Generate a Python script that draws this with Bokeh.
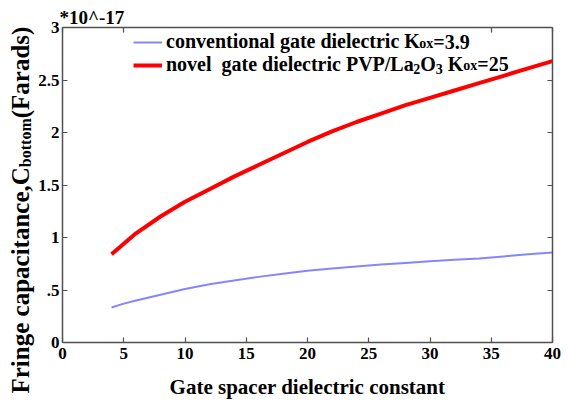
import math
from bokeh.plotting import figure
from bokeh.layouts import row
from bokeh.models import Range1d, FixedTicker, LinearAxis, Label, Legend, LegendItem
from bokeh.embed import file_html
from bokeh.resources import INLINE

# ---------------- data ----------------
x_vals = [4, 5, 6, 8, 10, 12, 14, 16, 18, 20, 22, 24, 26, 28, 30, 32, 34, 36, 38, 40]
conv_vals = [0.333, 0.37, 0.40, 0.455, 0.51, 0.555, 0.59, 0.625, 0.655, 0.683, 0.705,
             0.724, 0.742, 0.758, 0.773, 0.787, 0.80, 0.82, 0.84, 0.857]
novel_vals = [0.84, 0.94, 1.04, 1.20, 1.34, 1.46, 1.58, 1.69, 1.80, 1.91, 2.01,
              2.10, 2.18, 2.26, 2.33, 2.40, 2.47, 2.54, 2.61, 2.68]
x_ticks = [0, 5, 10, 15, 20, 25, 30, 35, 40]
top_ticks = [0, 5, 35, 40]          # the others are hidden behind the legend box
y_ticks = [0, 0.5, 1, 1.5, 2, 2.5, 3]
y_tick_labels = ["0", ".5", "1", "1.5", "2", "2.5", "3"]
scale_note = "*10^-17"
x_title = "Gate spacer dielectric constant"
y_title_parts = ["Fringe capacitance,C", "bottom", "(Farads)"]
legend_conv = ["conventional gate dielectric K", "ox", "=3.9"]
legend_novel = ["novel  gate dielectric PVP/La", "2", "O", "3", " K", "ox", "=25"]

# ---------------- layout ----------------
W, H = 569, 403
STRIP = 35                      # width of the strip holding the rotated y title
FL, FR, FT, FB = 60, 552, 27, 342   # frame edges in page pixels
FONT = "Liberation Serif"
AX = "#505050"

# Times-Bold advance widths (per 1000 em) for placing text pieces
TW = {' ': 250, ',': 250, '.': 250, '/': 278, '=': 570, '(': 333, ')': 333, '-': 333,
      '*': 500, '^': 581, 'A': 722, 'C': 722, 'F': 611, 'K': 778, 'L': 667, 'O': 778,
      'P': 611, 'V': 722, 'a': 500, 'b': 556, 'c': 444, 'd': 556, 'e': 444, 'g': 500,
      'i': 278, 'l': 278, 'm': 833, 'n': 556, 'o': 500, 'p': 556, 'r': 444, 's': 389,
      't': 333, 'v': 500, 'x': 500}


def tw(s, size):
    return sum(TW.get(c, 500) for c in s) * size / 1000.0


# ---------------- y-title strip (its frame is the whole strip) ----------------
yl = figure(width=STRIP, height=H, x_range=Range1d(0, STRIP), y_range=Range1d(0, H),
            output_backend="svg", toolbar_location=None, title=None,
            x_axis_location=None, y_axis_location=None,
            min_border_left=0, min_border_right=0, min_border_top=0, min_border_bottom=0)
yl.frame_align = False
yl.outline_line_color = None
yl.background_fill_color = "white"
yl.border_fill_color = "white"
yl.xgrid.grid_line_color = None
yl.ygrid.grid_line_color = None

ysizes = [25, 16, 25]
ymid = [19.5, 24.6, 19.5]     # centre line of each piece (subscript sits a little lower)
ycur = 393
for txt, sz, bx in zip(y_title_parts, ysizes, ymid):
    yl.add_layout(Label(x=bx, y=H - ycur,
                        angle=math.pi / 2, text=txt, text_font=FONT, text_font_style="bold",
                        text_font_size=f"{sz}px", text_color="black",
                        text_align="left", text_baseline="middle"))
    ycur -= tw(txt, sz)

# ---------------- main plot ----------------
p = figure(width=W - STRIP, height=H, x_range=Range1d(0, 40), y_range=Range1d(0, 3),
           output_backend="svg", toolbar_location=None,
           min_border_left=FL - STRIP, min_border_right=W - FR,
           min_border_top=FT, min_border_bottom=H - FB)
p.frame_align = False
p.background_fill_color = "white"
p.border_fill_color = "white"
p.outline_line_color = None
p.xgrid.grid_line_color = None
p.ygrid.grid_line_color = None

top_ax = LinearAxis()
right_ax = LinearAxis()
p.add_layout(top_ax, "above")
p.add_layout(right_ax, "right")


def style_axis(ax, ticks, labels=True):
    ax.ticker = FixedTicker(ticks=ticks)
    ax.major_tick_in = 5
    ax.major_tick_out = 0
    ax.minor_tick_in = 0
    ax.minor_tick_out = 0
    ax.axis_line_color = AX
    ax.axis_line_width = 1.5
    ax.major_tick_line_color = AX
    ax.major_tick_line_width = 1.2
    ax.major_label_text_font = FONT
    ax.major_label_text_font_style = "bold"
    if labels:
        ax.major_label_text_font_size = "17px"
        ax.major_label_text_color = "black"
    else:
        ax.major_label_text_font_size = "0px"
        ax.major_label_text_color = None
        ax.major_label_standoff = 0


bottom_ax = p.below[0]
left_ax = p.left[0]
style_axis(bottom_ax, x_ticks)
style_axis(left_ax, y_ticks)
style_axis(top_ax, top_ticks, labels=False)
style_axis(right_ax, y_ticks, labels=False)
left_ax.major_label_standoff = 3
bottom_ax.major_label_standoff = 5
left_ax.major_label_overrides = {t: s for t, s in zip(y_ticks, y_tick_labels)}
bottom_ax.major_label_overrides = {t: str(t) for t in x_ticks}

bottom_ax.axis_label = x_title
bottom_ax.axis_label_text_font = FONT
bottom_ax.axis_label_text_font_style = "bold"
bottom_ax.axis_label_text_font_size = "21px"
bottom_ax.axis_label_text_color = "black"
bottom_ax.axis_label_standoff = 13

# scale note as the plot title
p.title.text = scale_note
p.title.align = "left"
p.title.offset = -3
p.title.standoff = 0
p.title.text_font = FONT
p.title.text_font_style = "bold"
p.title.text_font_size = "19px"
p.title.text_color = "black"

# ---------------- lines ----------------
r_conv = p.line(x_vals, conv_vals, line_color="#8585ff", line_width=2)
r_novel = p.line(x_vals, novel_vals, line_color="#ff0000", line_width=4)

# ---------------- legend ----------------
LEG_LEFT, LEG_TOP, PAD, ROW = 131, 28, 2, 22
legend = Legend(items=[LegendItem(label=legend_conv[0], renderers=[r_conv]),
                       LegendItem(label=legend_novel[0], renderers=[r_novel])],
                location=(LEG_LEFT - FL, FB - (LEG_TOP + 2 * PAD + 2 * ROW)),
                glyph_width=29, glyph_height=ROW, label_height=ROW,
                label_standoff=4, spacing=0, padding=PAD, margin=0,
                border_line_color=None, background_fill_alpha=0.0,
                label_text_font=FONT, label_text_font_style="bold",
                label_text_font_size="20px", label_text_color="black")
p.add_layout(legend)

text_x0 = LEG_LEFT + PAD + 29 + 4 - 3
rows = [
    (legend_conv, [20, 14, 20], [0, 2, 0]),
    (legend_novel, [20, 14, 20, 14, 20, 14, 20], [0, 5, 0, 5, 0, 2, 0]),
]
for i, (parts, sizes, dys) in enumerate(rows):
    cy = LEG_TOP + PAD + ROW * i + ROW / 2
    cx = text_x0 + tw(parts[0], sizes[0])
    for txt, sz, dy in zip(parts[1:], sizes[1:], dys[1:]):
        lead = len(txt) - len(txt.lstrip(" "))
        shown = txt.lstrip(" ")
        p.add_layout(Label(x=cx + tw(" " * lead, sz) - FL, y=FB - (cy + dy),
                           x_units="screen", y_units="screen",
                           text=shown, text_font=FONT, text_font_style="bold",
                           text_font_size=f"{sz}px", text_color="black",
                           text_align="left", text_baseline="middle"))
        cx += tw(txt, sz)

layout = row(yl, p, spacing=0)
open("out.html", "w").write(file_html(layout, INLINE))
